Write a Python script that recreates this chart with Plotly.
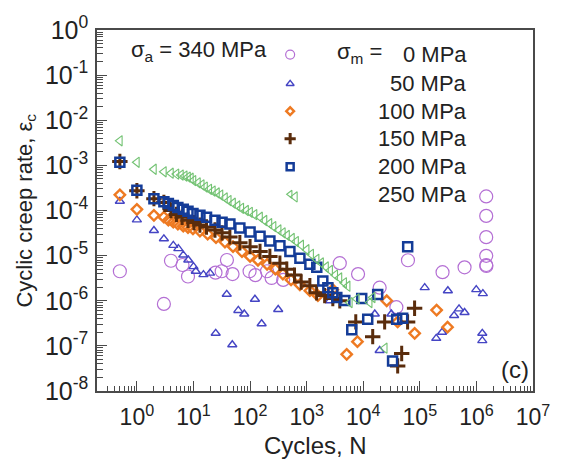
import plotly.graph_objects as go

# Cyclic creep rate vs. number of cycles, sigma_a = 340 MPa, for several mean stresses

# sigma_m = 0 MPa
n_0 = [0.5, 3, 4, 6.4, 8, 24.5, 31.5, 39, 49, 98, 124, 199, 240, 385, 3850, 8100,
       19500, 38500, 61700, 252000, 617000, 1.49e6, 1.49e6, 1.49e6, 1.49e6, 1.49e6, 1.5e6]
rate_0 = [4.5e-6, 8.5e-7, 7.7e-6, 6.2e-6, 3.45e-6, 4.2e-6, 4.5e-6, 8.0e-6, 3.9e-6, 4.5e-6,
          3.7e-6, 4.5e-6, 3.2e-6, 2.9e-6, 6.8e-6, 3.9e-6, 1.95e-6, 7.2e-7, 7.9e-6, 4.3e-6,
          5.5e-6, 2.05e-4, 7.6e-5, 2.57e-5, 9.9e-6, 6.2e-6, 5.9e-6]

# sigma_m = 50 MPa
n_50 = [0.5, 1, 2, 3, 4.4, 5.4, 6.6, 8.1, 10, 11, 15, 19.6, 38.7, 62, 79, 122, 160, 314,
        24.7, 48.5, 2570, 16000, 19500, 31400, 122000, 195000, 247000, 313000, 403000,
        493000, 617000, 993000, 1.27e6, 1.27e6, 1.3e6]
rate_50 = [1.6e-4, 6.2e-5, 3.6e-5, 2.36e-5, 1.69e-5, 1.43e-5, 1.03e-5, 8.0e-6, 5.7e-6,
           4.5e-6, 3.8e-6, 4.1e-6, 1.39e-6, 6.1e-7, 5.1e-7, 1.08e-6, 3.1e-7, 6.4e-7,
           1.9e-7, 1.06e-7, 1.0e-6, 5.1e-7, 7.9e-8, 5.1e-7, 1.95e-6, 1.47e-7, 2.0e-7,
           1.67e-6, 4.7e-7, 6.6e-7, 5.5e-7, 1.76e-6, 1.9e-7, 1.31e-7, 1.44e-6]

# sigma_m = 100 MPa
n_100 = [0.5, 1, 2, 3, 3.6, 4.4, 5.3, 6.6, 8, 9.8, 13, 17.8, 25, 36, 50, 72, 100, 138,
         200, 280, 380, 530, 760, 1140, 1580, 2900, 7900, 5100, 26000, 40600, 81000,
         198000, 309000]
rate_100 = [2.23e-4, 1.06e-4, 7.8e-5, 7.1e-5, 6.1e-5, 5.5e-5, 5.0e-5, 4.5e-5, 4.2e-5,
            3.9e-5, 3.5e-5, 3.0e-5, 2.5e-5, 2.0e-5, 1.58e-5, 1.23e-5, 9.6e-6, 7.9e-6,
            6.4e-6, 5.0e-6, 3.9e-6, 2.9e-6, 2.26e-6, 1.67e-6, 1.3e-6, 1.76e-6, 1.24e-7,
            6.5e-8, 1.0e-6, 3.4e-7, 1.9e-7, 6.2e-7, 2.6e-7]

# sigma_m = 150 MPa
n_150 = [0.5, 1, 2, 3, 4, 5, 6.3, 8, 10.2, 13, 17, 24, 32, 44, 66, 100, 150, 224, 337,
         446, 610, 800, 1140, 1500, 2080, 2900, 3850, 7380, 14700, 23900, 60800, 80800,
         47800, 40600]
rate_150 = [1.22e-3, 2.73e-4, 1.83e-4, 1.5e-4, 1.0e-4, 8.2e-5, 7.1e-5, 6.1e-5, 5.4e-5,
            4.75e-5, 4.3e-5, 3.7e-5, 3.2e-5, 2.6e-5, 1.93e-5, 1.58e-5, 1.23e-5, 9.6e-6,
            6.8e-6, 5.0e-6, 3.7e-6, 2.6e-6, 2.15e-6, 1.5e-6, 1.3e-6, 1.12e-6, 1.0e-6,
            3.4e-7, 1.6e-7, 3.4e-7, 3.4e-7, 6.8e-7, 6.8e-8, 3.6e-8]

# sigma_m = 200 MPa
n_200 = [0.5, 1, 2, 3, 3.6, 4.4, 5.3, 6.6, 8, 9.8, 13, 17, 24, 32, 44, 66, 100, 150, 224,
         337, 506, 760, 1140, 1510, 1930, 2370, 2900, 3410, 4720, 9400, 18000, 12000,
         6270, 39000, 49800, 33000, 61000]
rate_200 = [1.18e-3, 2.8e-4, 1.83e-4, 1.57e-4, 1.43e-4, 1.29e-4, 1.17e-4, 1.06e-4, 9.6e-5,
            8.6e-5, 7.8e-5, 7.1e-5, 6.1e-5, 5.5e-5, 5.0e-5, 4.1e-5, 3.35e-5, 2.7e-5,
            2.1e-5, 1.66e-5, 1.23e-5, 8.7e-6, 6.4e-6, 5.5e-6, 2.75e-6, 1.95e-6, 1.5e-6,
            1.18e-6, 1.01e-6, 1.12e-6, 1.37e-6, 3.9e-7, 2.27e-7, 3.9e-7, 4.1e-7, 4.6e-8,
            1.58e-5]

# sigma_m = 250 MPa
n_250 = [0.5, 1, 2, 3, 4, 5, 6, 7, 8, 9, 10, 12, 14, 16, 19, 22, 26, 30, 36, 42, 50, 60,
         70, 85, 100, 120, 150, 180, 220, 260, 320, 380, 450, 550, 650, 800, 1000, 1200,
         1500, 1800, 2200, 2600, 3200, 3800, 4600, 5300, 5800, 7700, 13000, 14700, 24000,
         620]
rate_250 = [3.5e-3, 1.17e-3, 8.2e-4, 7.2e-4, 6.7e-4, 6.4e-4, 6.1e-4, 5.8e-4, 5.5e-4,
            5.2e-4, 4.6e-4, 4.1e-4, 3.7e-4, 3.3e-4, 2.95e-4, 2.7e-4, 2.45e-4, 2.2e-4,
            1.9e-4, 1.66e-4, 1.45e-4, 1.26e-4, 1.12e-4, 1.0e-4, 9.1e-5, 8.1e-5, 7.1e-5,
            6.0e-5, 5.1e-5, 4.4e-5, 3.7e-5, 3.2e-5, 2.8e-5, 2.4e-5, 2.05e-5, 1.7e-5,
            1.35e-5, 1.07e-5, 8.3e-6, 6.9e-6, 5.6e-6, 4.7e-6, 3.7e-6, 3.2e-6, 2.5e-6,
            2.1e-6, 9.1e-7, 1.1e-6, 9.1e-7, 1.18e-6, 8.9e-8, 2.0e-4]

mean_stress_labels = ["0 MPa", "50 MPa", "100 MPa", "150 MPa", "200 MPa", "250 MPa"]

x_decades = list(range(0, 8))
y_decades = list(range(-8, 1))

FONT = "Arial, 'Liberation Sans', sans-serif"
INK = "#222222"
FRAME = "#4a4a4a"

series = [
    (n_0, rate_0, dict(symbol="circle-open", size=13, color="#b46fd4",
                       line=dict(width=1.2, color="#b46fd4"))),
    (n_50, rate_50, dict(symbol="triangle-up-open", size=8, color="#4545c4",
                         line=dict(width=1.4, color="#4545c4"))),
    (n_100, rate_100, dict(symbol="diamond-open", size=8, color="#ee7a22",
                           line=dict(width=2.4, color="#ee7a22"))),
    (n_150, rate_150, dict(symbol="cross-thin-open", size=11, color="#5a2c0c",
                           line=dict(width=3, color="#5a2c0c"))),
    (n_200, rate_200, dict(symbol="square-open", size=9, color="#143c98",
                           line=dict(width=2.5, color="#143c98"))),
    (n_250, rate_250, dict(symbol="triangle-left-open", size=9, color="#72c272",
                           line=dict(width=1.1, color="#72c272"))),
]

legend_sizes = [9, 7, 6, 8, 7, 7]

fig = go.Figure()

for xs, ys, mk in series:
    fig.add_trace(go.Scatter(x=xs, y=ys, mode="markers", marker=mk,
                             showlegend=False, hoverinfo="skip"))

# key glyphs, drawn on an overlay axis spanning the plot area
key_x = 0.443
key_rows = [0.932, 0.851, 0.775, 0.699, 0.621, 0.545]
for (xs, ys, mk), row, sz in zip(series, key_rows, legend_sizes):
    kmk = dict(mk)
    kmk["size"] = sz
    fig.add_trace(go.Scatter(x=[key_x], y=[row], mode="markers", marker=kmk,
                             xaxis="x2", yaxis="y2", showlegend=False,
                             hoverinfo="skip"))

x_minor = [d * 10.0 ** e for e in range(-1, 7) for d in range(2, 10)]
y_minor = [d * 10.0 ** e for e in range(-8, 0) for d in range(2, 10)]

axis_common = dict(
    type="log", showgrid=False, zeroline=False, showline=True, mirror=True,
    linecolor=FRAME, linewidth=1.5, ticks="inside", tickcolor=FRAME,
    tickwidth=1, ticklen=10,
)

fig.update_layout(
    width=564, height=461,
    margin=dict(l=97, r=31, t=22, b=70),
    paper_bgcolor="white", plot_bgcolor="white",
    font=dict(family=FONT, color=INK),
    xaxis=dict(
        axis_common, range=[-0.705, 7.0], ticklabelstandoff=5,
        tickfont=dict(family=FONT, size=23, color=INK),
        tickmode="array", tickvals=[10.0 ** e for e in x_decades],
        ticktext=[f"10<sup>{e}</sup>" for e in x_decades],
        minor=dict(tickmode="array", tickvals=x_minor, ticks="inside",
                   ticklen=5, tickcolor=FRAME, tickwidth=1, showgrid=False),
    ),
    yaxis=dict(
        axis_common, range=[-8, 0], ticklabelstandoff=2,
        tickfont=dict(family=FONT, size=25, color=INK),
        tickmode="array", tickvals=[10.0 ** e for e in y_decades],
        ticktext=[f"10<sup>{e}</sup>" for e in y_decades],
        minor=dict(tickmode="array", tickvals=y_minor, ticks="inside",
                   ticklen=6, tickcolor=FRAME, tickwidth=1, showgrid=False),
    ),
    xaxis2=dict(overlaying="x", range=[0, 1], visible=False, fixedrange=True),
    yaxis2=dict(overlaying="y", range=[0, 1], visible=False, fixedrange=True),
)

annotations = [
    dict(text="Cycles, N", x=0.5, y=-0.152, xref="paper", yref="paper",
         xanchor="center", yanchor="middle", showarrow=False,
         font=dict(family=FONT, size=24, color=INK)),
    dict(text="Cyclic creep rate, ε<sub>c</sub>", x=-0.165, y=0.5, xref="paper",
         yref="paper", xanchor="center", yanchor="middle", textangle=-90,
         showarrow=False, font=dict(family=FONT, size=22, color=INK)),
    dict(text="σ<sub>a</sub> = 340 MPa", x=0.074, y=0.943, xref="paper", yref="paper",
         xanchor="left", yanchor="middle", showarrow=False,
         font=dict(family=FONT, size=22, color=INK)),
    dict(text="σ<sub>m</sub> =", x=0.546, y=0.935, xref="paper", yref="paper",
         xanchor="left", yanchor="middle", showarrow=False,
         font=dict(family=FONT, size=22, color=INK)),
    dict(text="(c)", x=0.995, y=0.06, xref="paper", yref="paper",
         xanchor="right", yanchor="middle", showarrow=False,
         font=dict(family=FONT, size=24, color=INK)),
]
for label, row in zip(mean_stress_labels, key_rows):
    annotations.append(dict(text=label, x=0.853, y=row, xref="paper", yref="paper",
                            xanchor="right", yanchor="middle", showarrow=False,
                            font=dict(family=FONT, size=22, color=INK)))
fig.update_layout(annotations=annotations)

fig.write_html("out.html")
